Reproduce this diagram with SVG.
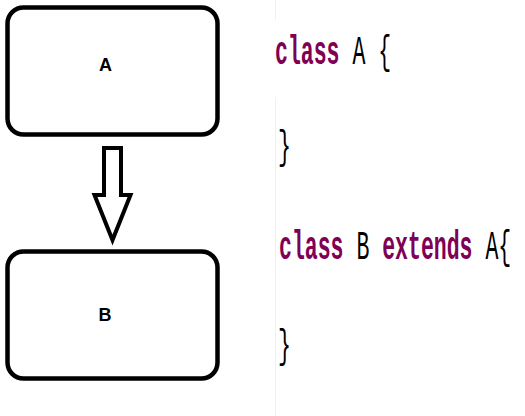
<svg xmlns="http://www.w3.org/2000/svg" width="525" height="416" viewBox="0 0 525 416">
<style>
.box{fill:#fff;stroke:#000;stroke-width:4.5}
.lbl{font-family:"Liberation Sans",Arial,sans-serif;font-weight:bold;font-size:18px;fill:#000;text-anchor:middle}
.code{font-family:"Liberation Mono","DejaVu Sans Mono",monospace;font-size:21.5px;fill:#000}
.kw{fill:#7f0055;font-weight:bold}
.arrow{fill:#fff;stroke:#000;stroke-width:4;stroke-linejoin:miter}
</style>
<rect width="525" height="416" fill="#fff"/>
<line x1="275.5" y1="0" x2="275.5" y2="20" stroke="#f0f0f0" stroke-width="1"/>
<line x1="275.5" y1="97" x2="275.5" y2="416" stroke="#f0f0f0" stroke-width="1"/>
<g id="nodeA">
<rect class="box" x="7.5" y="7.5" width="210" height="127" rx="16"/>
<text class="lbl" x="105.5" y="71">A</text>
</g>
<g id="nodeB">
<rect class="box" x="7.5" y="251.5" width="210" height="127" rx="16"/>
<text class="lbl" x="105" y="321">B</text>
</g>
<g id="connectors">
<polygon class="arrow" points="104,148 121,148 121,195 130.5,195 112.5,240 94.5,195 104,195"/>
</g>
<g id="code">
<text class="code" transform="translate(275,64) scale(1,1.85)"><tspan class="kw">class</tspan> A {</text>
<text class="code" transform="translate(278,159) scale(1,1.85)">}</text>
<text class="code" transform="translate(279,259) scale(1,1.85)"><tspan class="kw">class</tspan> B <tspan class="kw">extends</tspan> A{</text>
<text class="code" transform="translate(278,358) scale(1,1.85)">}</text>
</g>
</svg>
